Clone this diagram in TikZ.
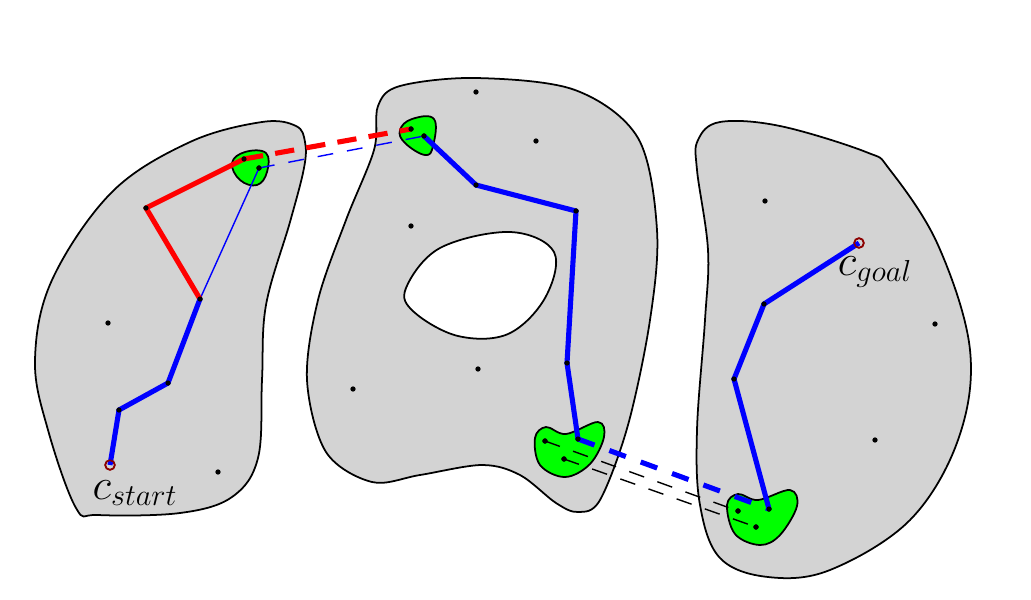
\documentclass[tikz,border=0pt]{standalone}
\usetikzlibrary{calc}
\definecolor{regiongray}{RGB}{211,211,211}
\definecolor{freegreen}{RGB}{0,255,0}
\definecolor{pathblue}{RGB}{0,0,255}
\definecolor{pathred}{RGB}{255,0,0}
\definecolor{darkred}{RGB}{140,0,0}
\tikzset{
  region/.style={fill=regiongray, draw=black, line width=1pt},
  hole/.style={fill=white, draw=black, line width=1pt},
  blob/.style={fill=freegreen, draw=black, line width=1pt},
  dot/.style={circle, fill=black, inner sep=0pt, minimum size=3pt},
  endpt/.style={circle, draw=darkred, line width=0.9pt, inner sep=0pt, minimum size=5.5pt},
  thickblue/.style={pathblue, line width=2.9pt, line join=round},
  thinblue/.style={pathblue, line width=0.8pt},
  thickred/.style={pathred, line width=2.9pt, line join=round},
  reddash/.style={pathred, line width=2.9pt, dash pattern=on 11pt off 7pt},
  bluedash/.style={pathblue, line width=2.9pt, dash pattern=on 10pt off 9pt},
  thinbluedash/.style={pathblue, line width=0.8pt, dash pattern=on 9pt off 8pt},
  blackdash/.style={black, line width=0.8pt, dash pattern=on 9pt off 8pt},
  lbl/.style={font=\fontsize{26}{31}\selectfont, inner sep=0pt}
}
\begin{document}
\begin{tikzpicture}[x=0.02cm,y=-0.02cm]
\useasboundingbox (0,0) rectangle (1031,599);
% regions
\draw[region] plot[smooth cycle, tension=0.6] coordinates {
 (305,142) (296,126) (262,122) (190,142) (112,192) (52,280) (35,360) (48,430)
 (76,508) (98,515) (180,513) (232,497) (258,458) (262,380) (266,305) (290,222) (304,168)};
\draw[region] plot[smooth cycle, tension=0.55] coordinates {
 (378,106) (400,86) (476,78) (575,90) (638,138) (657,230) (650,320) (628,425)
 (600,500) (578,512) (556,503) (520,475) (482,465) (420,475) (372,482) (326,452)
 (307,380) (318,300) (346,220) (374,150)};
\draw[hole] plot[smooth cycle, tension=0.6] coordinates {
 (406,288) (440,248) (510,232) (554,252) (545,298) (508,334) (458,336) (414,312)};
\draw[region] plot[smooth cycle, tension=0.6] coordinates {
 (698,140) (720,122) (780,126) (866,152) (890,170) (938,245) (970,350) (958,440)
 (910,520) (830,570) (768,577) (720,558) (700,505) (697,430) (705,320) (708,250) (697,170)};
% green blobs
\draw[blob] plot[smooth cycle, tension=0.7] coordinates {
 (232,163) (245,152) (266,153) (267,172) (257,185) (240,180)};
\draw[blob] plot[smooth cycle, tension=0.7] coordinates {
 (400,130) (412,119) (434,119) (433,146) (425,155) (405,143)};
\draw[blob] plot[smooth cycle, tension=0.6] coordinates {
 (535,438) (546,427) (566,434) (598,422) (604,437) (590,464) (565,477) (540,465)};
\draw[blob] plot[smooth cycle, tension=0.6] coordinates {
 (727,505) (738,494) (758,500) (790,490) (797,506) (780,535) (760,545) (735,534)};
% sample points
\foreach \n/\p in {a1/{(108,323)}, a2/{(218,472)}, b1/{(476,92)}, b2/{(536,141)},
  b3/{(411,226)}, b4/{(353,389)}, b5/{(478,369)}, c1/{(765,201)}, c2/{(935,324)}, c3/{(875,440)}}
  \node[dot] (\n) at \p {};
% path nodes
\node[endpt] (start) at (110,465) {};
\node[dot] (l1) at (119,410) {};
\node[dot] (l2) at (168,383) {};
\node[dot] (l3) at (200,299) {};
\node[dot] (l4) at (146,208) {};
\node[dot] (g1r) at (244,159) {};
\node[dot] (g1b) at (259,168) {};
\node[dot] (g2r) at (411,129) {};
\node[dot] (g2b) at (424,136) {};
\node[dot] (m1) at (476,185) {};
\node[dot] (m2) at (576,211) {};
\node[dot] (m3) at (567,363) {};
\node[dot] (g3a) at (545,441) {};
\node[dot] (g3b) at (564,459) {};
\node[dot] (g3c) at (578,439) {};
\node[dot] (g4a) at (738,511) {};
\node[dot] (g4b) at (756,527) {};
\node[dot] (g4c) at (769,509) {};
\node[dot] (r1) at (734,379) {};
\node[dot] (r2) at (764,304) {};
\node[endpt] (goal) at (859,243) {};
% connectors
\draw[thinblue] (l3.center) -- (g1b.center);
\draw[thinbluedash] (g1b.center) -- (g2b.center);
\draw[reddash] (g1r.center) -- (g2r.center);
\draw[thickred] (l3.center) -- (l4.center) -- (g1r.center);
\draw[thickblue] (start.center) -- (l1.center) -- (l2.center) -- (l3.center);
\draw[thickblue] (g2b.center) -- (m1.center) -- (m2.center) -- (m3.center) -- (g3c.center);
\draw[blackdash] (g3a.center) -- (g4a.center);
\draw[blackdash] (g3b.center) -- (g4b.center);
\draw[bluedash] (g3c.center) -- (g4c.center);
\draw[thickblue] (g4c.center) -- (r1.center) -- (r2.center) -- (goal.center);
% redraw dots and endpoints on top
\foreach \n in {l1,l2,l3,l4,g1r,g1b,g2r,g2b,m1,m2,m3,g3a,g3b,g3c,g4a,g4b,g4c,r1,r2}
  \fill (\n) circle (2.6);
\node[endpt] at (start) {};
\node[endpt] at (goal) {};
% labels
\node[lbl] (ls) at (135,493) {$c_{start}$};
\node[lbl] (lg) at (875,272) {$c_{goal}$};
\end{tikzpicture}
\end{document}
